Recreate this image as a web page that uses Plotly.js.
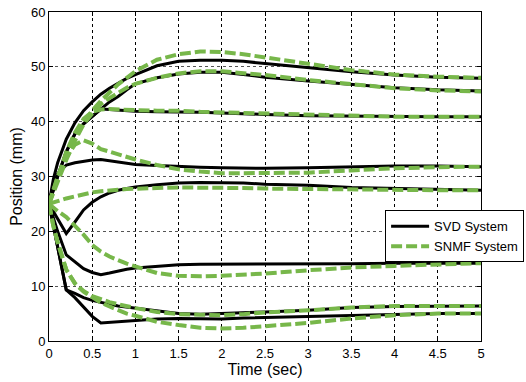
<!DOCTYPE html>
<html>
<head>
<meta charset="utf-8">
<script src="https://cdn.plot.ly/plotly-3.0.1.min.js"></script>
<style>html,body{margin:0;padding:0;background:#fff;}#chart{width:526px;height:382px;}</style>
</head>
<body>
<div id="chart"></div>
<script>
// Time samples (sec)
const time = [0, 0.05, 0.1, 0.2, 0.3, 0.4, 0.5, 0.6, 0.7, 0.8, 0.9, 1.0, 1.25, 1.5, 1.75, 2.0, 2.25, 2.5, 3.0, 3.5, 4.0, 4.5, 5.0];

// SVD System positions (mm)
const svd1 = [25, 29.5, 32.5, 36.8, 39.8, 42.0, 43.6, 45.0, 46.1, 47.0, 47.9, 48.6, 50.2, 51.0, 51.2, 51.2, 51.0, 50.6, 49.8, 49.1, 48.5, 48.1, 47.9];
const svd2 = [25, 27.5, 30.0, 34.5, 37.8, 39.6, 41.0, 42.3, 43.6, 44.6, 45.8, 46.9, 48.0, 48.7, 49.0, 49.0, 48.6, 48.1, 47.4, 46.8, 46.2, 45.8, 45.6];
const svd3 = [25, 27.5, 30.0, 34.5, 37.8, 39.6, 41.0, 42.3, 42.2, 42.1, 42.0, 41.9, 41.8, 41.8, 41.7, 41.6, 41.4, 41.3, 41.1, 41.0, 40.9, 40.9, 40.9];
const svd4 = [25, 28.5, 30.5, 32.1, 32.5, 32.8, 33.0, 33.1, 32.9, 32.7, 32.4, 32.2, 32.0, 31.8, 31.7, 31.6, 31.5, 31.5, 31.6, 31.8, 31.9, 31.9, 31.8];
const svd5 = [25, 23.6, 22.2, 19.6, 21.7, 23.9, 25.3, 26.3, 27.0, 27.5, 27.8, 28.1, 28.5, 28.8, 28.9, 28.9, 28.8, 28.6, 28.4, 28.0, 27.8, 27.6, 27.5];
const svd6 = [25, 22.5, 20.0, 15.7, 14.4, 13.2, 12.5, 12.1, 12.4, 12.8, 13.1, 13.3, 13.6, 13.9, 14.0, 14.0, 14.0, 14.1, 14.1, 14.1, 14.2, 14.2, 14.2];
const svd7 = [25, 21.0, 17.0, 9.3, 8.7, 7.9, 7.4, 7.0, 6.7, 6.4, 6.2, 6.0, 5.4, 5.0, 4.9, 5.0, 5.1, 5.3, 5.6, 6.1, 6.3, 6.4, 6.4];
const svd8 = [25, 21.0, 17.0, 9.3, 7.9, 6.2, 4.5, 3.3, 3.4, 3.5, 3.7, 3.8, 4.0, 4.1, 4.0, 4.0, 4.2, 4.3, 4.5, 4.7, 4.8, 5.0, 5.0];

// SNMF System positions (mm)
const snmf1 = [25, 27.5, 29.5, 33.5, 37.0, 39.8, 42.0, 43.8, 45.4, 46.8, 48.0, 49.2, 51.3, 52.3, 52.8, 52.7, 52.3, 51.7, 50.6, 49.4, 48.6, 48.2, 48.0];
const snmf2 = [25, 27.0, 29.0, 33.0, 36.5, 39.5, 41.5, 43.2, 44.3, 45.3, 46.2, 46.9, 48.0, 48.8, 49.2, 49.2, 48.9, 48.5, 47.6, 46.8, 46.1, 45.7, 45.5];
const snmf3 = [25, 27.5, 30.0, 34.5, 38.0, 40.5, 41.8, 42.2, 42.3, 42.2, 42.2, 42.1, 42.0, 42.0, 41.8, 41.7, 41.5, 41.4, 41.2, 41.0, 40.9, 40.9, 40.9];
const snmf4 = [25, 27.5, 30.0, 33.5, 35.8, 36.6, 36.0, 35.0, 34.5, 34.0, 33.5, 33.1, 32.1, 31.3, 30.9, 30.6, 30.6, 30.6, 30.7, 31.1, 31.5, 31.7, 31.8];
const snmf5 = [25, 25.2, 25.5, 26.0, 26.4, 26.8, 27.1, 27.3, 27.5, 27.6, 27.7, 27.8, 27.9, 28.0, 28.0, 28.0, 27.9, 27.8, 27.7, 27.6, 27.6, 27.5, 27.5];
const snmf6 = [25, 24.3, 23.7, 22.6, 21.1, 19.4, 17.5, 16.3, 15.4, 14.7, 14.1, 13.6, 12.4, 11.9, 11.8, 11.9, 12.1, 12.3, 12.9, 13.4, 13.7, 14.0, 14.2];
const snmf7 = [25, 21.0, 18.0, 13.0, 10.5, 9.1, 8.2, 7.6, 7.1, 6.7, 6.3, 6.0, 5.3, 4.9, 4.8, 4.7, 4.9, 5.2, 5.6, 6.1, 6.4, 6.4, 6.4];
const snmf8 = [25, 21.0, 18.0, 13.0, 10.5, 9.0, 8.0, 7.0, 6.3, 5.6, 5.0, 4.6, 3.5, 2.9, 2.4, 2.3, 2.4, 2.7, 3.3, 4.1, 4.7, 5.0, 5.0];

const svdSeries = [svd1, svd2, svd3, svd4, svd5, svd6, svd7, svd8];
const snmfSeries = [snmf1, snmf2, snmf3, snmf4, snmf5, snmf6, snmf7, snmf8];
const seriesNames = ['SVD System', 'SNMF System'];
const xTicks = [0, 0.5, 1, 1.5, 2, 2.5, 3, 3.5, 4, 4.5, 5];
const yTicks = [0, 10, 20, 30, 40, 50, 60];

const traces = [];
svdSeries.forEach((s, i) => traces.push({
  x: time, y: s, type: 'scatter', mode: 'lines',
  name: seriesNames[0], showlegend: i === 0,
  line: {color: '#000000', width: 3}
}));
snmfSeries.forEach((s, i) => traces.push({
  x: time, y: s, type: 'scatter', mode: 'lines',
  name: seriesNames[1], showlegend: i === 0,
  line: {color: '#77b74a', width: 4, dash: '11px,4px'}
}));

const font = {family: '"Liberation Sans", Arial, Helvetica, sans-serif', color: '#000'};

const layout = {
  width: 526, height: 382,
  margin: {l: 49, r: 45, t: 12, b: 41, pad: 0, autoexpand: false},
  paper_bgcolor: '#fff', plot_bgcolor: '#fff',
  font: Object.assign({size: 13}, font),
  showlegend: true,
  legend: {
    x: 0.778, y: 0.397, xanchor: 'left', yanchor: 'top',
    bgcolor: '#fff', bordercolor: '#000', borderwidth: 1,
    font: Object.assign({size: 13}, font),
    traceorder: 'normal', itemwidth: 38
  },
  xaxis: {
    range: [0, 5], tickvals: xTicks, ticktext: xTicks.map(String),
    showgrid: true, gridcolor: '#000', griddash: '3px,3px', gridwidth: 1,
    showline: true, linecolor: '#000', linewidth: 1, mirror: 'ticks',
    ticks: 'inside', ticklen: 4, tickcolor: '#000',
    zeroline: false, tickfont: Object.assign({size: 13}, font),
    title: {text: 'Time (sec)', font: Object.assign({size: 16}, font), standoff: 4}
  },
  yaxis: {
    range: [0, 60], tickvals: yTicks, ticktext: yTicks.map(String),
    showgrid: true, gridcolor: '#555', griddash: '3px,3px', gridwidth: 1,
    showline: true, linecolor: '#000', linewidth: 1, mirror: 'ticks',
    ticks: 'inside', ticklen: 4, tickcolor: '#000',
    zeroline: false, tickfont: Object.assign({size: 13}, font),
    title: {text: 'Position (mm)', font: Object.assign({size: 16}, font), standoff: 4}
  }
};

Plotly.newPlot('chart', traces, layout, {staticPlot: true, displayModeBar: false});
</script>
</body>
</html>
